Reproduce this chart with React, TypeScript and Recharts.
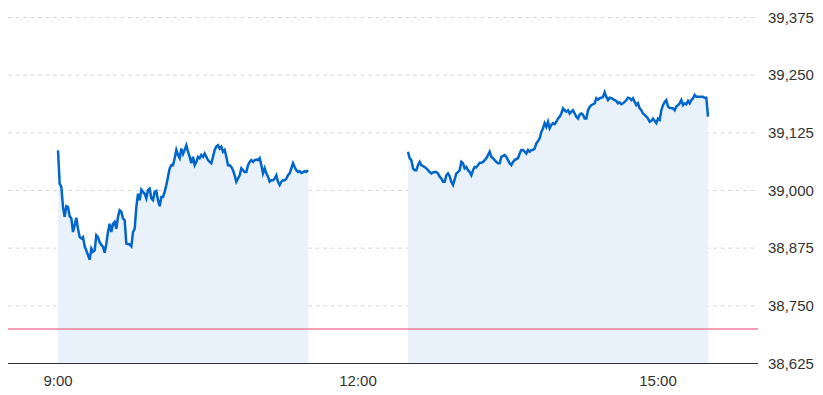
import {
  ComposedChart,
  Area,
  XAxis,
  YAxis,
  CartesianGrid,
  ReferenceLine,
} from "recharts";

// minutes since midnight
const morningStart = 540; // 9:00
const afternoonStart = 750; // 12:30
const lunchGap = 720; // 12:00, no trading

const xTicks = [540, 720, 900];
const yTicks = [38625, 38750, 38875, 39000, 39125, 39250, 39375];
const prevClose = 38700;

// 9:00 - 11:30, one value per minute
const morningValues = [
  39087, 39015, 39008, 38964, 38943, 38966, 38964, 38944, 38940, 38910,
  38925, 38941, 38917, 38899, 38896, 38899, 38879, 38870, 38860, 38850,
  38874, 38867, 38870, 38903, 38899, 38888, 38882, 38878, 38865, 38885,
  38910, 38928, 38910, 38928, 38932, 38917, 38943, 38957, 38954, 38939,
  38936, 38885, 38884, 38883, 38879, 38910, 38917, 38964, 38993, 38979,
  39002, 38997, 38993, 38983, 39001, 39004, 38983, 38979, 38997, 38999,
  38979, 38966, 38986, 38986, 38997, 39012, 39030, 39048, 39055, 39055,
  39070, 39088, 39077, 39070, 39091, 39079, 39088, 39098, 39084, 39073,
  39059, 39073, 39055, 39062, 39073, 39070, 39077, 39073, 39080, 39073,
  39066, 39062, 39059, 39073, 39088, 39095, 39098, 39091, 39095, 39084,
  39088, 39073, 39055, 39055, 39051, 39044, 39033, 39019, 39026, 39033,
  39048, 39044, 39040, 39040, 39055, 39062, 39066, 39062, 39066, 39067,
  39066, 39070, 39055, 39037, 39048, 39037, 39030, 39019, 39022, 39022,
  39026, 39033, 39019, 39012, 39019, 39022, 39022, 39026, 39033, 39037,
  39048, 39059, 39051, 39044, 39040, 39042, 39038, 39040, 39042, 39040,
  39044,
];

// 12:30 - 15:30, one value per minute
const afternoonValues = [
  39084, 39070, 39066, 39048, 39044, 39044, 39055, 39062, 39055, 39053,
  39051, 39048, 39044, 39040, 39037, 39039, 39040, 39040, 39037, 39030,
  39026, 39019, 39019, 39033, 39037, 39031, 39019, 39012, 39024, 39037,
  39040, 39044, 39062, 39059, 39048, 39051, 39044, 39040, 39033, 39044,
  39051, 39050, 39055, 39060, 39060, 39062, 39066, 39070, 39077, 39084,
  39073, 39070, 39066, 39062, 39059, 39059, 39073, 39075, 39077, 39073,
  39066, 39059, 39055, 39062, 39066, 39068, 39070, 39080, 39088, 39088,
  39084, 39080, 39088, 39084, 39088, 39088, 39091, 39102, 39107, 39113,
  39127, 39135, 39146, 39138, 39149, 39135, 39142, 39146, 39144, 39149,
  39156, 39160, 39167, 39178, 39174, 39171, 39174, 39167, 39171, 39174,
  39167, 39160, 39156, 39164, 39167, 39164, 39156, 39156, 39174, 39181,
  39185, 39187, 39189, 39200, 39197, 39200, 39201, 39203, 39213, 39203,
  39196, 39201, 39200, 39198, 39196, 39194, 39189, 39191, 39187, 39189,
  39192, 39196, 39201, 39200, 39196, 39200, 39192, 39185, 39189, 39178,
  39174, 39167, 39164, 39160, 39156, 39149, 39151, 39156, 39151, 39146,
  39156, 39153, 39174, 39185, 39192, 39196, 39182, 39179, 39179, 39178,
  39174, 39182, 39185, 39189, 39196, 39185, 39189, 39187, 39194, 39189,
  39196, 39200, 39207, 39203, 39203, 39203, 39203, 39203, 39201, 39201,
  39160,
];

const data = [
  ...morningValues.map((v, i) => ({ t: morningStart + i, v })),
  { t: lunchGap, v: null },
  ...afternoonValues.map((v, i) => ({ t: afternoonStart + i, v })),
];

function formatTime(m: number): string {
  const h = Math.floor(m / 60);
  const mm = m % 60;
  return `${h}:${String(mm).padStart(2, "0")}`;
}

const tickStyle = {
  fill: "#333",
  fontSize: 15,
  fontFamily: "Arial, 'Liberation Sans', sans-serif",
};

export default function App() {
  return (
    <div style={{ position: "absolute", left: 0, top: 0, background: "#fff" }}>
      <ComposedChart
        width={823}
        height={395}
        data={data}
        margin={{ top: 17.5, right: 0, left: 8, bottom: 0 }}
      >
        <CartesianGrid
          vertical={false}
          stroke="#d9d9d9"
          strokeDasharray="4 3.5"
        />
        <XAxis
          dataKey="t"
          type="number"
          domain={[510, 960]}
          ticks={xTicks}
          tickFormatter={formatTime}
          tick={tickStyle}
          tickLine={false}
          tickMargin={6}
          axisLine={{ stroke: "#333", strokeWidth: 1 }}
          height={31.5}
        />
        <YAxis
          orientation="right"
          domain={[38625, 39375]}
          ticks={yTicks}
          tickFormatter={(v: number) => v.toLocaleString("en-US")}
          tick={tickStyle}
          tickLine={false}
          axisLine={false}
          tickMargin={4}
          width={65}
        />
        <Area
          type="linear"
          dataKey="v"
          stroke="#0066cc"
          strokeWidth={2.5}
          fill="#e9f1fa"
          fillOpacity={1}
          connectNulls={false}
          dot={false}
          activeDot={false}
          isAnimationActive={false}
        />
        <ReferenceLine y={prevClose} stroke="#f47f9d" strokeWidth={1.5} />
      </ComposedChart>
    </div>
  );
}
